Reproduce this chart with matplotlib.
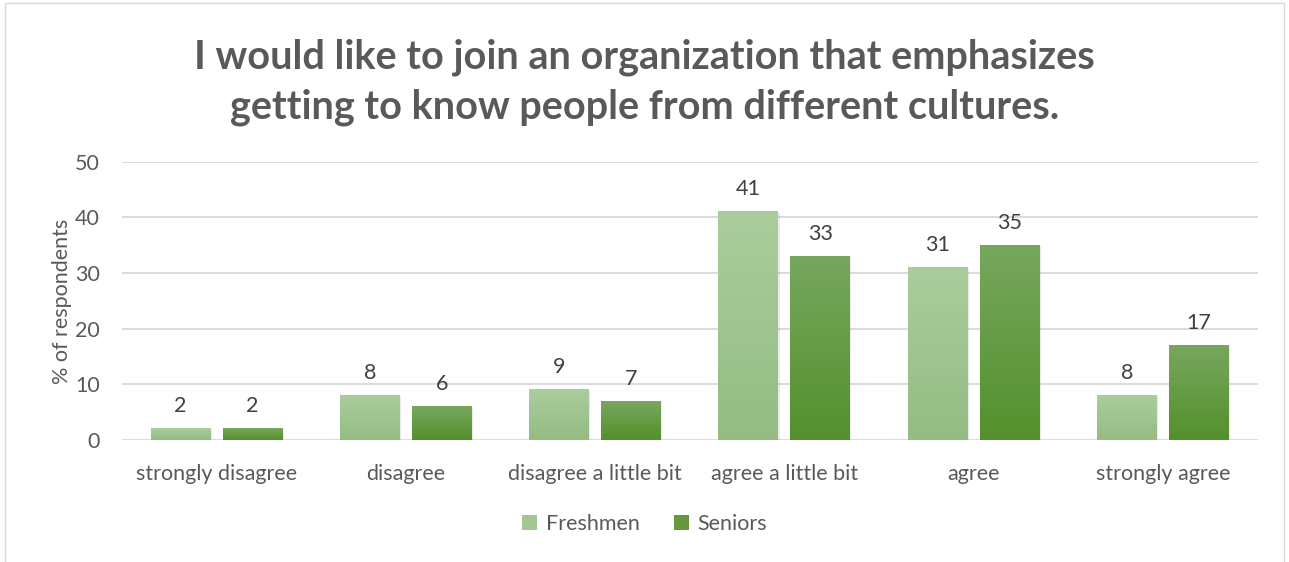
import numpy as np
import matplotlib
matplotlib.use("Agg")
import matplotlib.pyplot as plt
from matplotlib.colors import LinearSegmentedColormap
from matplotlib.patches import Rectangle, Patch

plt.rcParams['font.family'] = ['Lato', 'DejaVu Sans']

categories = ["strongly disagree", "disagree", "disagree a little bit",
              "agree a little bit", "agree", "strongly agree"]
freshmen = [2, 8, 9, 41, 31, 8]
seniors = [2, 6, 7, 33, 35, 17]

title = ("I would like to join an organization that emphasizes\n"
         "getting to know people from different cultures.")
text_col = "#595959"

fresh_cmap = LinearSegmentedColormap.from_list("fr", ["#94BC83", "#ABCD9D"])
senior_cmap = LinearSegmentedColormap.from_list("sr", ["#54902C", "#77A75E"])

fig = plt.figure(figsize=(12.89, 5.62), dpi=100)
ax = fig.add_axes([0.0946, 0.217, 0.881, 0.495])

# chart border
fig.patches.append(Rectangle((0.004, -0.01), 0.992, 1.004, transform=fig.transFigure,
                             fill=False, edgecolor="#D9D9D9", linewidth=1.0))

x = np.arange(len(categories))
width = 0.317
offset = 0.19
grad = np.linspace(0, 1, 256).reshape(-1, 1)


def draw_bars(xs, vals, cmap):
    bars = ax.bar(xs, vals, width, color="none", zorder=3)
    for b in bars:
        x0, h, w = b.get_x(), b.get_height(), b.get_width()
        # soft shadow
        ax.add_patch(Rectangle((x0 + 0.006, 0), w, h - 0.15, facecolor="#000000",
                               alpha=0.08, zorder=2, linewidth=0))
        ax.imshow(grad, extent=[x0, x0 + w, 0, h], origin="lower", cmap=cmap,
                  aspect="auto", zorder=3)
    return bars


fb = draw_bars(x - offset, freshmen, fresh_cmap)
sb = draw_bars(x + offset, seniors, senior_cmap)

for xs, vals in ((x - offset, freshmen), (x + offset, seniors)):
    for xi, v in zip(xs, vals):
        ax.annotate(str(v), (xi, v), xytext=(0, 9), textcoords="offset points",
                    ha="center", va="bottom", fontsize=15.5, color="#404040")

ax.set_xlim(-0.5, len(categories) - 0.5)
ax.set_ylim(0, 50)
ax.set_yticks(range(0, 51, 10))
ax.set_xticks(x)
ax.set_xticklabels(categories)
ax.tick_params(axis="both", length=0, labelsize=15.5, labelcolor=text_col)
ax.tick_params(axis="x", pad=17)
ax.tick_params(axis="y", pad=16)
ax.grid(axis="y", color="#D9D9D9", linewidth=1.3, zorder=0)
ax.set_axisbelow(True)
for s in ax.spines.values():
    s.set_visible(False)
ax.set_ylabel("% of respondents", fontsize=15.5, color=text_col, labelpad=2)

fig.text(0.5, 0.853, title, ha="center", va="center", fontsize=28.5, fontweight="bold",
         color=text_col, linespacing=1.42)

handles = [Patch(facecolor="#A3C794", label="Freshmen"),
           Patch(facecolor="#66993F", label="Seniors")]
fig.legend(handles=handles, loc="center", bbox_to_anchor=(0.5, 0.067), ncol=2,
           frameon=False, fontsize=15.5, handlelength=0.7, handleheight=0.7,
           handletextpad=0.4, columnspacing=1.6, labelcolor=text_col)

fig.savefig("out.png", dpi=100)
